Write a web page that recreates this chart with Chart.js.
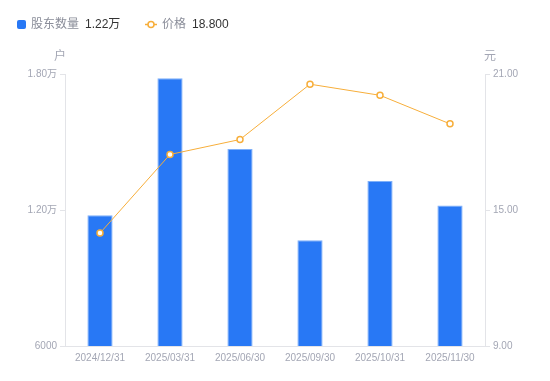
<!DOCTYPE html>
<html>
<head>
<meta charset="utf-8">
<script src="https://cdn.jsdelivr.net/npm/chart.js@4/dist/chart.umd.min.js"></script>
<style>
  html, body { margin:0; padding:0; background:#fff; }
  #wrap { position:relative; width:550px; height:381px; }
</style>
</head>
<body>
<div id="wrap"><canvas id="c" width="550" height="381"></canvas></div>
<script>
// data
const dates = ["2024/12/31","2025/03/31","2025/06/30","2025/09/30","2025/10/31","2025/11/30"];
const holders = [11770, 17810, 14690, 10660, 13280, 12200];
const prices = [13.98, 17.45, 18.11, 20.55, 20.06, 18.80];
const holderTicks = [6000, 12000, 18000];
const priceTicks = [9, 15, 21];

const FONT = "'Liberation Sans', 'Noto Sans CJK SC', sans-serif";
const BLUE = "#2878F5";
const ORANGE = "#F7AE3A";
const TICK_C = "#a3a6b4";
const AXIS_C = "#e3e4e8";

function fmtHolders(v){ return v >= 10000 ? (v/10000).toFixed(2) + "万" : String(v); }

// legend + unit labels drawn on canvas
const extras = {
  id: "extras",
  afterDraw(chart){
    const ctx = chart.ctx;
    ctx.save();
    ctx.font = "12px " + FONT;
    ctx.textBaseline = "middle";
    // bar legend
    ctx.fillStyle = BLUE;
    ctx.beginPath(); ctx.roundRect(17, 20, 9, 9, 2); ctx.fill();
    ctx.fillStyle = "#8a8d99"; ctx.fillText("股东数量", 31, 25);
    ctx.fillStyle = "#333"; ctx.fillText(fmtHolders(holders[holders.length-1]), 85, 25);
    // line legend
    ctx.strokeStyle = ORANGE; ctx.lineWidth = 1.5;
    ctx.beginPath(); ctx.moveTo(145, 24.5); ctx.lineTo(157, 24.5); ctx.stroke();
    ctx.fillStyle = "#fff";
    ctx.beginPath(); ctx.arc(151, 24.5, 3, 0, Math.PI*2); ctx.fill(); ctx.stroke();
    ctx.fillStyle = "#8a8d99"; ctx.fillText("价格", 162, 25);
    ctx.fillStyle = "#333"; ctx.fillText(prices[prices.length-1].toFixed(3), 192, 25);
    // units
    ctx.font = "12px " + FONT;
    ctx.fillStyle = TICK_C;
    ctx.textAlign = "center";
    const a = chart.chartArea;
    ctx.fillText("户", a.left - 5, 57);
    ctx.fillText("元", a.right + 5, 57);
    ctx.restore();
  }
};

new Chart(document.getElementById("c"), {
  data: {
    labels: dates,
    datasets: [
      { type: "line", label: "价格", data: prices, yAxisID: "yR", borderColor: ORANGE, borderWidth: 1,
        pointRadius: 3, pointBorderWidth: 1.5, pointBackgroundColor: "#fff", pointBorderColor: ORANGE,
        tension: 0, order: 0 },
      { type: "bar", label: "股东数量", data: holders, yAxisID: "yL", backgroundColor: BLUE,
        borderColor: "#7fb0f9", borderWidth: {top:1, left:1, right:1, bottom:0},
        categoryPercentage: 1, barPercentage: 0.36, order: 1 }
    ]
  },
  options: {
    responsive: false, animation: false,
    layout: { padding: { top: 74, left: 0, right: 0, bottom: 0 } },
    plugins: { legend: { display: false }, tooltip: { enabled: false } },
    scales: {
      x: {
        grid: { display: false, drawTicks: false },
        border: { display: true, color: AXIS_C },
        ticks: { color: TICK_C, font: { size: 10, family: FONT }, padding: 6, maxRotation: 0 },
        afterFit(s){ s.height = 35; }
      },
      yL: {
        position: "left", min: 6000, max: 18000,
        grid: { drawOnChartArea: false, drawTicks: true, tickLength: 5, color: AXIS_C },
        border: { display: true, color: AXIS_C },
        ticks: { color: TICK_C, font: { size: 10, family: FONT }, padding: 3, callback: v => fmtHolders(v) },
        afterBuildTicks(s){ s.ticks = holderTicks.map(v => ({ value: v })); },
        afterFit(s){ s.width = 65; }
      },
      yR: {
        position: "right", min: 9, max: 21,
        grid: { drawOnChartArea: false, drawTicks: true, tickLength: 5, color: AXIS_C },
        border: { display: true, color: AXIS_C },
        ticks: { color: TICK_C, font: { size: 10, family: FONT }, padding: 3, callback: v => v.toFixed(2) },
        afterBuildTicks(s){ s.ticks = priceTicks.map(v => ({ value: v })); },
        afterFit(s){ s.width = 65; }
      }
    }
  },
  plugins: [extras]
});
</script>
</body>
</html>
